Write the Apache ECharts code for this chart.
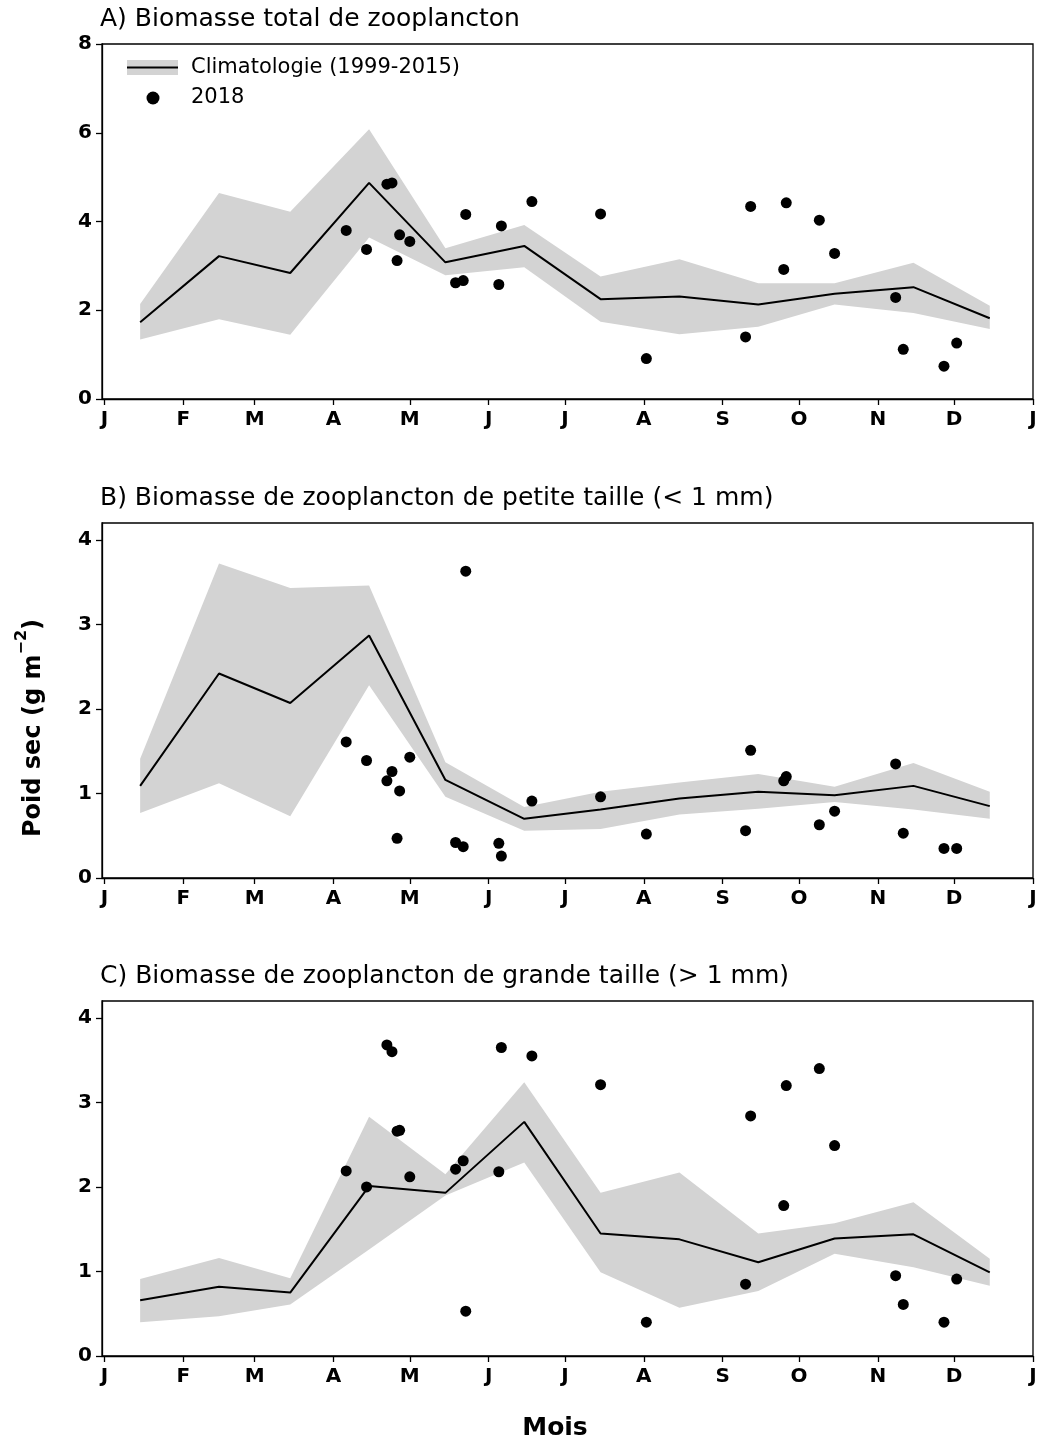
<!DOCTYPE html>
<html>
<head>
<meta charset="utf-8">
<script src="https://cdn.jsdelivr.net/npm/echarts@6/dist/echarts.min.js"></script>
<style>
  html, body { margin: 0; padding: 0; background: #fff; }
  #chart { width: 1044px; height: 1441px; }
</style>
</head>
<body>
<div id="chart"></div>
<script>
// axe des x : jour de l'annee
var monthDays = [0, 31, 59, 90, 120, 151, 181, 212, 243, 273, 304, 334, 365]
var monthLabels = ['J', 'F', 'M', 'A', 'M', 'J', 'J', 'A', 'S', 'O', 'N', 'D', 'J']
// climatologie au milieu de chaque mois
var climDays = [14, 45, 73, 104, 134, 165, 195, 226, 257, 287, 318, 348]
// dates d'echantillonnage 2018
var sampleDays = [95, 103, 111, 113, 115, 116, 120, 138, 141, 142, 155, 156, 168, 195, 213, 252, 254, 267, 268, 281, 287, 311, 314, 330, 335]

// A) biomasse totale
var totalMean = [1.73, 3.22, 2.84, 4.87, 3.08, 3.45, 2.25, 2.31, 2.13, 2.37, 2.52, 1.82]
var totalLow = [1.34, 1.80, 1.45, 3.64, 2.79, 2.97, 1.74, 1.46, 1.63, 2.13, 1.94, 1.58]
var totalHigh = [2.14, 4.64, 4.22, 6.08, 3.40, 3.92, 2.76, 3.15, 2.61, 2.61, 3.07, 2.10]
var total2018 = [3.80, 3.37, 4.84, 4.87, 3.12, 3.70, 3.55, 2.62, 2.67, 4.16, 2.58, 3.90, 4.45, 4.17, 0.91, 1.40, 4.34, 2.92, 4.42, 4.03, 3.28, 2.29, 1.12, 0.74, 1.26]

// B) petite taille (< 1 mm)
var smallMean = [1.09, 2.42, 2.07, 2.87, 1.16, 0.70, 0.81, 0.94, 1.02, 0.98, 1.09, 0.85]
var smallLow = [0.77, 1.12, 0.73, 2.28, 0.96, 0.56, 0.58, 0.75, 0.82, 0.90, 0.81, 0.70]
var smallHigh = [1.41, 3.72, 3.43, 3.46, 1.37, 0.84, 1.02, 1.13, 1.23, 1.08, 1.36, 1.02]
var small2018 = [1.61, 1.39, 1.15, 1.26, 0.47, 1.03, 1.43, 0.42, 0.37, 3.63, 0.41, 0.26, 0.91, 0.96, 0.52, 0.56, 1.51, 1.15, 1.20, 0.63, 0.79, 1.35, 0.53, 0.35, 0.35]

// C) grande taille (> 1 mm)
var largeMean = [0.66, 0.82, 0.75, 2.01, 1.93, 2.77, 1.45, 1.38, 1.11, 1.39, 1.44, 0.99]
var largeLow = [0.40, 0.47, 0.61, 1.26, 1.90, 2.29, 0.99, 0.57, 0.77, 1.21, 1.05, 0.83]
var largeHigh = [0.91, 1.16, 0.92, 2.83, 2.15, 3.24, 1.93, 2.17, 1.45, 1.57, 1.82, 1.15]
var large2018 = [2.19, 2.00, 3.68, 3.60, 2.66, 2.67, 2.12, 2.21, 2.31, 0.53, 2.18, 3.65, 3.55, 3.21, 0.40, 0.85, 2.84, 1.78, 3.20, 3.40, 2.49, 0.95, 0.61, 0.40, 0.91]

var panels = [
  { title: 'A) Biomasse total de zooplancton', mean: totalMean, low: totalLow, high: totalHigh, obs: total2018, max: 8, ticks: [0, 2, 4, 6, 8] },
  { title: 'B) Biomasse de zooplancton de petite taille (< 1 mm)', mean: smallMean, low: smallLow, high: smallHigh, obs: small2018, max: 4.2, ticks: [0, 1, 2, 3, 4] },
  { title: 'C) Biomasse de zooplancton de grande taille (> 1 mm)', mean: largeMean, low: largeLow, high: largeHigh, obs: large2018, max: 4.2, ticks: [0, 1, 2, 3, 4] }
]
var gridTops = [44, 523, 1001]
var font = 'DejaVu Sans, sans-serif'

function pairs(xs, ys) {
  var out = []
  for (var i = 0; i < xs.length; i++) {
    out.push([xs[i], ys[i]])
  }
  return out
}

var grids = []
var xAxes = []
var yAxes = []
var series = []
var titles = []

panels.forEach(function(p, i) {
  grids.push({
    left: 102, right: 11, top: gridTops[i], height: 355,
    show: true, borderColor: '#000', borderWidth: 1.3, backgroundColor: 'transparent'
  })
  titles.push({
    text: p.title, left: 95, top: gridTops[i] - 42,
    textStyle: { fontFamily: font, fontSize: 25, fontWeight: 'normal', color: '#000' }
  })
  xAxes.push({
    type: 'value', gridIndex: i, min: -1, max: 365,
    splitLine: { show: false },
    axisLine: { show: true, onZero: false, lineStyle: { color: '#000', width: 1.3 } },
    axisTick: { show: true, length: 6, customValues: monthDays, lineStyle: { color: '#000', width: 1.3 } },
    axisLabel: {
      customValues: monthDays, margin: 11,
      fontFamily: font, fontSize: 20, fontWeight: 'bold', color: '#000',
      formatter: function(v) {
        var k = monthDays.indexOf(Math.round(v))
        return k >= 0 ? monthLabels[k] : ''
      }
    }
  })
  yAxes.push({
    type: 'value', gridIndex: i, min: 0, max: p.max,
    splitLine: { show: false },
    axisLine: { show: true, onZero: false, lineStyle: { color: '#000', width: 1.3 } },
    axisTick: { show: true, length: 6, customValues: p.ticks, lineStyle: { color: '#000', width: 1.3 } },
    axisLabel: {
      customValues: p.ticks, margin: 10,
      fontFamily: font, fontSize: 20, fontWeight: 'bold', color: '#000'
    }
  })
  // bande de la climatologie : un seul polygone haut -> bas
  series.push({
    type: 'custom', xAxisIndex: i, yAxisIndex: i, silent: true,
    data: climDays.map(function(d, k) { return [d, p.low[k], p.high[k]] }),
    encode: { x: 0, y: [1, 2] },
    renderItem: function(params, api) {
      if (params.dataIndex !== 0) return null
      var pts = []
      for (var k = 0; k < climDays.length; k++) pts.push(api.coord([climDays[k], p.high[k]]))
      for (var j = climDays.length - 1; j >= 0; j--) pts.push(api.coord([climDays[j], p.low[j]]))
      return { type: 'polygon', shape: { points: pts }, style: { fill: '#d3d3d3' } }
    }
  })
  series.push({
    type: 'line', xAxisIndex: i, yAxisIndex: i,
    data: pairs(climDays, p.mean), symbol: 'none',
    lineStyle: { color: '#000', width: 2 }
  })
  series.push({
    type: 'scatter', xAxisIndex: i, yAxisIndex: i,
    data: pairs(sampleDays, p.obs), symbol: 'circle', symbolSize: 11,
    itemStyle: { color: '#000', opacity: 1 }
  })
})

var chart = echarts.init(document.getElementById('chart'), null, { renderer: 'canvas' })
chart.setOption({
  animation: false,
  backgroundColor: '#fff',
  title: titles,
  grid: grids,
  xAxis: xAxes,
  yAxis: yAxes,
  series: series,
  graphic: [
    // legende
    { type: 'rect', z: 100, shape: { x: 127, y: 60, width: 51, height: 15 }, style: { fill: '#d3d3d3' } },
    { type: 'line', z: 101, shape: { x1: 127, y1: 67.5, x2: 178, y2: 67.5 }, style: { stroke: '#000', lineWidth: 2 } },
    { type: 'text', z: 100, x: 191, y: 68, style: { text: 'Climatologie (1999-2015)', fontFamily: font, fontSize: 21, fill: '#000', verticalAlign: 'middle' } },
    { type: 'circle', z: 100, shape: { cx: 153, cy: 98, r: 6.5 }, style: { fill: '#000' } },
    { type: 'text', z: 100, x: 191, y: 98, style: { text: '2018', fontFamily: font, fontSize: 21, fill: '#000', verticalAlign: 'middle' } },
    // titres des axes
    {
      type: 'text', z: 100, x: 30, y: 728, rotation: Math.PI / 2,
      style: {
        text: '{m|Poid sec (g m}{s|\u22122}{m|)}',
        align: 'center', verticalAlign: 'middle',
        rich: {
          m: { fontFamily: font, fontSize: 24, fontWeight: 'bold', fill: '#000', lineHeight: 32, verticalAlign: 'bottom' },
          s: { fontFamily: font, fontSize: 16, fontWeight: 'bold', fill: '#000', lineHeight: 32, verticalAlign: 'top' }
        }
      }
    },
    {
      type: 'text', z: 100, x: 555, y: 1428,
      style: { text: 'Mois', fontFamily: font, fontSize: 25, fontWeight: 'bold', fill: '#000', align: 'center', verticalAlign: 'middle' }
    }
  ]
})
</script>
</body>
</html>
